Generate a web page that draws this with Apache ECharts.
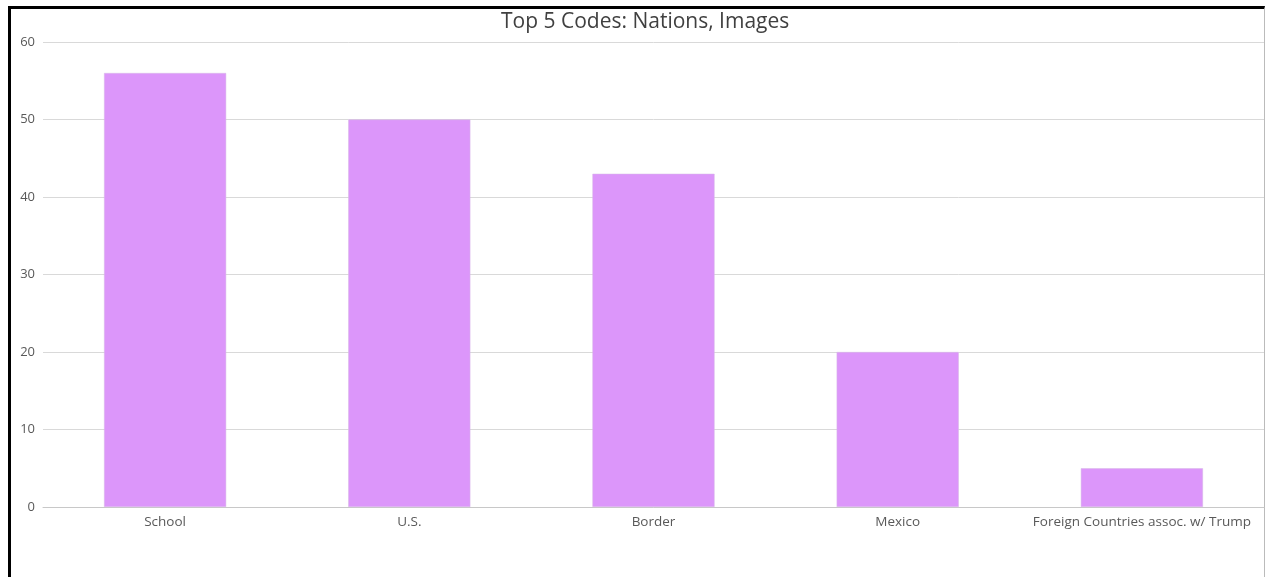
<!DOCTYPE html>
<html>
<head>
<meta charset="utf-8">
<script src="https://cdn.jsdelivr.net/npm/echarts@6/dist/echarts.min.js"></script>
<style>
  html, body { margin: 0; padding: 0; background: #fff; }
  #frame {
    position: absolute; left: 8px; top: 6px; width: 1253px; height: 580px;
    border-top: 3px solid #000; border-left: 3px solid #000; border-right: 1px solid #bbb;
  }
  #chart { position: absolute; left: 0; top: 0; width: 1265px; height: 577px; }
</style>
</head>
<body>
<div id="frame"></div>
<div id="chart"></div>
<script>
// Code counts for the most frequent codes
const categories = ['School', 'U.S.', 'Border', 'Mexico', 'Foreign Countries assoc. w/ Trump'];
const counts = [56, 50, 43, 20, 5];
const yTicks = { min: 0, max: 60, interval: 10 };

const chart = echarts.init(document.getElementById('chart'), null, { renderer: 'canvas' });
const labelFont = 'Open Sans, Lato, sans-serif';
chart.setOption({
  animation: false,
  title: {
    text: 'Top 5 Codes: Nations, Images',
    left: 496, top: 7,
    textStyle: { fontFamily: labelFont, fontSize: 21, fontWeight: 'normal', color: '#404040' }
  },
  grid: { left: 43, right: 1, top: 42, bottom: 70, containLabel: false },
  xAxis: {
    type: 'category',
    data: categories,
    axisLine: { lineStyle: { color: '#c8c8c8', width: 1 } },
    axisTick: { show: false },
    axisLabel: { interval: 0, hideOverlap: false, fontFamily: labelFont, fontSize: 13.5, color: '#595959', margin: 8 }
  },
  yAxis: {
    type: 'value',
    min: yTicks.min, max: yTicks.max, interval: yTicks.interval,
    axisLine: { show: false },
    axisTick: { show: false },
    splitLine: { lineStyle: { color: '#d9d9d9', width: 1 } },
    axisLabel: { fontFamily: labelFont, fontSize: 13, color: '#595959', margin: 8 }
  },
  series: [{
    type: 'bar',
    data: counts,
    barWidth: '50%',
    itemStyle: { color: '#dc96fa', borderColor: '#d6b8e6', borderWidth: 0.5 }
  }]
});
</script>
</body>
</html>
